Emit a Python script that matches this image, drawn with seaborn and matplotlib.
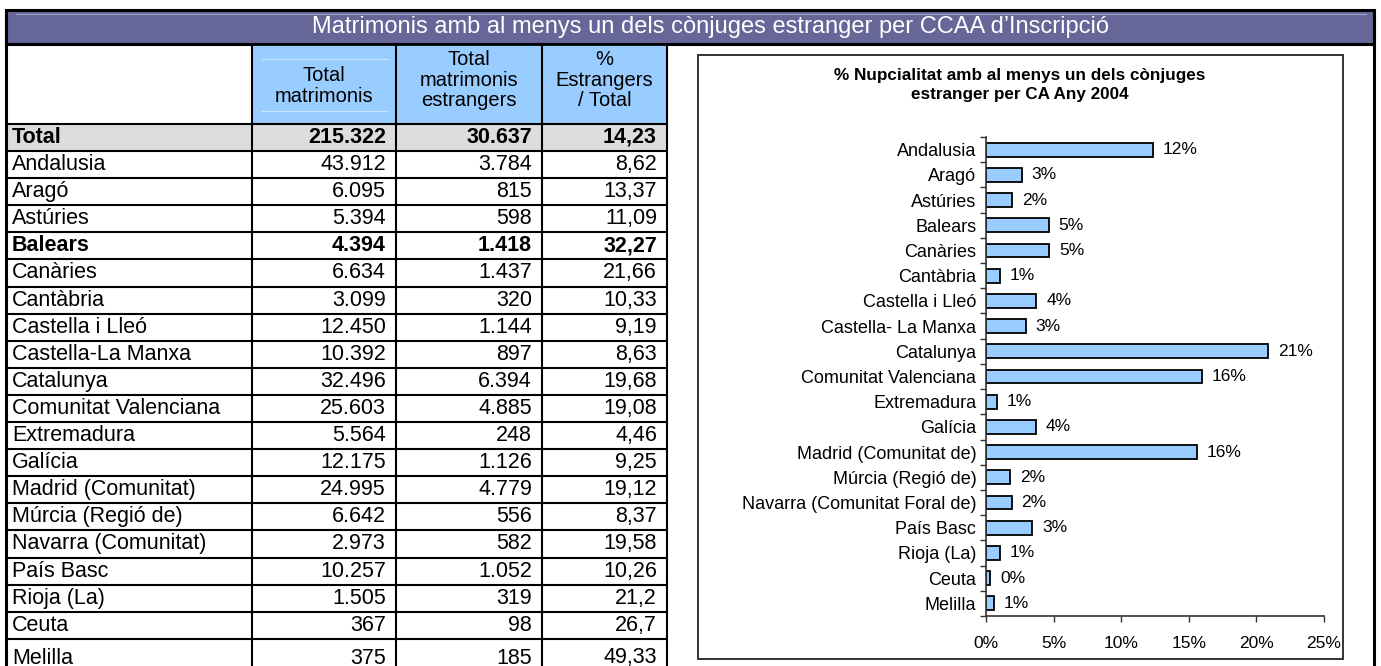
import numpy as np
import pandas as pd
import seaborn as sns
import matplotlib.pyplot as plt
from matplotlib.patches import Rectangle

# --- data ------------------------------------------------------------------
regions = ['Andalusia', 'Aragó', 'Astúries', 'Balears', 'Canàries', 'Cantàbria',
           'Castella i Lleó', 'Castella-La Manxa', 'Catalunya', 'Comunitat Valenciana',
           'Extremadura', 'Galícia', 'Madrid (Comunitat)', 'Múrcia (Regió de)',
           'Navarra (Comunitat)', 'País Basc', 'Rioja (La)', 'Ceuta', 'Melilla']
total_matrimonis = [43912, 6095, 5394, 4394, 6634, 3099, 12450, 10392, 32496, 25603,
                    5564, 12175, 24995, 6642, 2973, 10257, 1505, 367, 375]
total_estrangers = [3784, 815, 598, 1418, 1437, 320, 1144, 897, 6394, 4885,
                    248, 1126, 4779, 556, 582, 1052, 319, 98, 185]
pct_estrangers = [8.62, 13.37, 11.09, 32.27, 21.66, 10.33, 9.19, 8.63, 19.68, 19.08,
                  4.46, 9.25, 19.12, 8.37, 19.58, 10.26, 21.2, 26.7, 49.33]
total_row = ['Total', 215322, 30637, 14.23]
bold_regions = ['Balears']

header_cols = ['Total\nmatrimonis', 'Total\nmatrimonis\nestrangers', '%\nEstrangers\n/ Total']
table_title = "Matrimonis amb al menys un dels cònjuges estranger per CCAA d\u2019Inscripció"

chart_title = "% Nupcialitat amb al menys un dels cònjuges\nestranger per CA Any 2004"
chart_labels = ['Andalusia', 'Aragó', 'Astúries', 'Balears', 'Canàries', 'Cantàbria',
                'Castella i Lleó', 'Castella- La Manxa', 'Catalunya', 'Comunitat Valenciana',
                'Extremadura', 'Galícia', 'Madrid (Comunitat de)', 'Múrcia (Regió de)',
                'Navarra (Comunitat Foral de)', 'País Basc', 'Rioja (La)', 'Ceuta', 'Melilla']
share_pct = [12.35, 2.66, 1.95, 4.63, 4.69, 1.04, 3.73, 2.93, 20.87, 15.94,
             0.81, 3.68, 15.60, 1.81, 1.90, 3.43, 1.04, 0.32, 0.60]
x_ticks = [0, 5, 10, 15, 20, 25]


def fmt_int(n):
    return f"{n:,}".replace(',', '.')


def fmt_pct(v):
    return ('%.2f' % v).rstrip('0').rstrip('.').replace('.', ',')


sns.set_style('white')
plt.rcParams['font.family'] = ['Liberation Sans', 'DejaVu Sans']
plt.rcParams['text.color'] = 'black'
plt.rcParams['xtick.color'] = 'black'
plt.rcParams['ytick.color'] = 'black'

W, H = 1381, 666
fig = plt.figure(figsize=(W / 100, H / 100), dpi=100)
fig.patch.set_facecolor('white')

# background axes in pixel coordinates for the table
bg = fig.add_axes([0, 0, 1, 1])
bg.set_xlim(0, W)
bg.set_ylim(H, 0)
bg.axis('off')

PURPLE = '#666699'
BLUE = '#99CCFF'
GREY = '#DDDDDD'
LW = 1.5

# title bar
bg.add_patch(Rectangle((6, 10), 1368, 34, fc=PURPLE, ec='black', lw=2.2, zorder=1))
bg.plot([16, 1366], [14, 14], color='#a5a5c8', lw=0.8, zorder=2)
bg.text(711, 27.5, table_title, color='white', fontsize=17, ha='center', va='center', zorder=3)

# header + total row fills
col_x = [6, 252, 396, 542, 667]
bg.add_patch(Rectangle((252, 44), 415, 80, fc=BLUE, ec='none', zorder=1))
bg.add_patch(Rectangle((6, 124), 661, 27, fc=GREY, ec='none', zorder=1))
bg.plot([262, 388], [59, 59], color='#cfe6ff', lw=0.8, zorder=2)
bg.plot([262, 388], [111, 111], color='#cfe6ff', lw=0.8, zorder=2)

# table grid
row_h = 27.1
row_top = 151
bg.plot([6, 6], [10, H], color='black', lw=2.2, zorder=4)
bg.plot([1374, 1374], [10, H], color='black', lw=2.2, zorder=4)
bg.plot([6, 1374], [44, 44], color='black', lw=2, zorder=4)
for y in [124, 151] + [row_top + k * row_h for k in range(1, len(regions))]:
    bg.plot([6, 667], [y, y], color='black', lw=LW, zorder=4)
for x in col_x[1:]:
    bg.plot([x, x], [44, H], color='black', lw=LW, zorder=4)

# header text
for j, label in enumerate(header_cols):
    cx = (col_x[j + 1] + col_x[j + 2]) / 2
    cy = 86 if j == 0 else 80
    bg.text(cx, cy, label, ha='center', va='center', fontsize=14.5,
            linespacing=1.12, zorder=5)

fs = 15.5
# total row
bg.text(12, 137.5, total_row[0], fontsize=fs, fontweight='bold', va='center', zorder=5)
for j, val in enumerate([fmt_int(total_row[1]), fmt_int(total_row[2]), fmt_pct(total_row[3])]):
    bg.text(col_x[j + 2] - 10, 137.5, val, fontsize=fs, fontweight='bold',
            ha='right', va='center', zorder=5)

# data rows
for i, name in enumerate(regions):
    yc = row_top + i * row_h + row_h / 2
    if i == len(regions) - 1:
        yc = 658
    weight = 'bold' if name in bold_regions else 'normal'
    bg.text(12, yc, name, fontsize=fs, fontweight=weight, va='center', zorder=5)
    vals = [fmt_int(total_matrimonis[i]), fmt_int(total_estrangers[i]), fmt_pct(pct_estrangers[i])]
    for j, val in enumerate(vals):
        bg.text(col_x[j + 2] - 10, yc, val, fontsize=fs, fontweight=weight,
                ha='right', va='center', zorder=5)

# chart frame and title
bg.add_patch(Rectangle((698, 55), 645, 604, fc='none', ec='#333333', lw=1.4, zorder=2))
bg.text(1020, 85, chart_title, ha='center', va='center', fontsize=12.3,
        fontweight='bold', linespacing=1.3, zorder=5)

# --- bar chart ---------------------------------------------------------------
df = pd.DataFrame({'label': chart_labels, 'share': share_pct})
ax = fig.add_axes([986 / W, 1 - 616 / H, 338 / W, 479 / H])
ax.set_facecolor('none')
sns.barplot(data=df, x='share', y='label', ax=ax, color=BLUE, saturation=1,
            edgecolor='black', linewidth=1.3, width=0.55, orient='h')
ax.bar_label(ax.containers[0], labels=[f"{round(v)}%" for v in share_pct],
             padding=7, fontsize=12.5)

ax.set_xlim(0, 25)
ax.set_ylim(len(chart_labels) - 0.5, -0.5)
ax.set_xticks(x_ticks)
ax.set_xticklabels([f"{t}%" for t in x_ticks])
ax.set_yticks(range(len(chart_labels)))
ax.set_yticks(np.arange(-0.5, len(chart_labels), 1), minor=True)
ax.tick_params(axis='x', length=4.5, width=1, color='#333333', direction='out',
               labelsize=12.5, pad=10, bottom=True)
ax.tick_params(axis='y', which='major', length=0, labelsize=13, pad=7, left=True)
ax.tick_params(axis='y', which='minor', length=4.5, width=1, color='#333333',
               direction='out', left=True)
ax.set_xlabel('')
ax.set_ylabel('')
for side in ['top', 'right']:
    ax.spines[side].set_visible(False)
for side in ['left', 'bottom']:
    ax.spines[side].set_color('#333333')
    ax.spines[side].set_linewidth(1.2)

fig.savefig('out.png', dpi=100)
